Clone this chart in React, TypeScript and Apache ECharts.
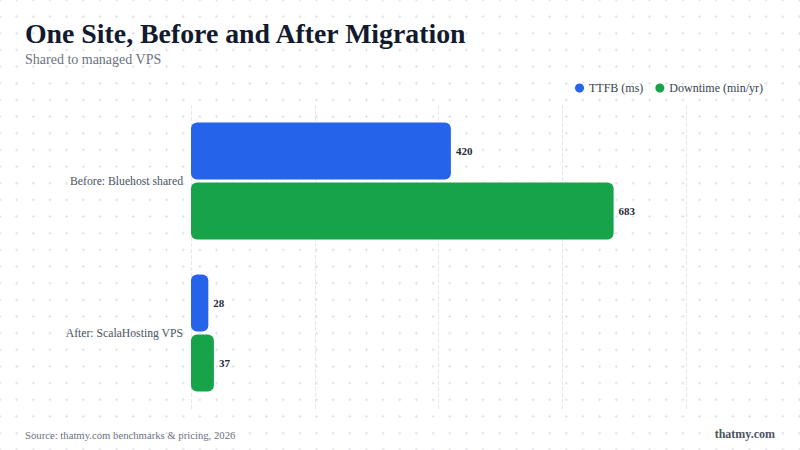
import * as echarts from "echarts";
import { useEffect, useRef } from "react";

const categories = ["Before: Bluehost shared", "After: ScalaHosting VPS"];
const ttfb = [420, 28];
const downtime = [683, 37];
const seriesNames = ["TTFB (ms)", "Downtime (min/yr)"];

const FONT = "'Liberation Serif', Georgia, serif";

function App() {
  const chartRef = useRef<HTMLDivElement>(null);

  useEffect(() => {
    const chart = echarts.init(chartRef.current, null, { renderer: "svg" });

    const barLabel = {
      show: true,
      position: "right",
      distance: 5,
      fontFamily: FONT,
      fontSize: 11,
      fontWeight: "bold",
      color: "#1f2937",
    };

    chart.setOption({
      animation: false,
      backgroundColor: "transparent",
      textStyle: { fontFamily: FONT },
      title: {
        text: "One Site, Before and After Migration",
        subtext: "Shared to managed VPS",
        left: 25,
        top: 19,
        padding: 0,
        itemGap: 5,
        textStyle: {
          fontFamily: FONT,
          fontSize: 27.8,
          fontWeight: "bold",
          color: "#111a2e",
        },
        subtextStyle: {
          fontFamily: FONT,
          fontSize: 14,
          color: "#6b7280",
        },
      },
      legend: {
        data: seriesNames,
        right: 37,
        top: 82,
        padding: 0,
        icon: "circle",
        itemWidth: 9,
        itemHeight: 9,
        itemGap: 12,
        textStyle: { fontFamily: FONT, fontSize: 12, color: "#374151" },
      },
      grid: { left: 191, right: 114, top: 105, bottom: 41 },
      xAxis: {
        type: "value",
        min: 0,
        max: 800,
        interval: 200,
        axisLabel: { show: false },
        axisLine: { show: false },
        axisTick: { show: false },
        splitLine: { lineStyle: { color: "#e5e7eb", type: "dashed", width: 1 } },
      },
      yAxis: {
        type: "category",
        data: categories,
        inverse: true,
        axisLine: { show: false },
        axisTick: { show: false },
        axisLabel: { fontFamily: FONT, fontSize: 11.7, color: "#4b5563", margin: 8 },
      },
      series: [
        {
          name: seriesNames[0],
          type: "bar",
          data: ttfb,
          barWidth: 57,
          barGap: "5%",
          itemStyle: { color: "#2563eb", borderRadius: 6 },
          label: barLabel,
        },
        {
          name: seriesNames[1],
          type: "bar",
          data: downtime,
          barWidth: 57,
          barGap: "5%",
          itemStyle: { color: "#16a34a", borderRadius: 6 },
          label: barLabel,
        },
      ],
      graphic: [
        {
          type: "text",
          left: 25,
          top: 429,
          style: {
            text: "Source: thatmy.com benchmarks & pricing, 2026",
            fontFamily: FONT,
            fontSize: 10.7,
            fill: "#6b7280",
          },
        },
        {
          type: "text",
          right: 25,
          top: 428,
          style: {
            text: "thatmy.com",
            fontFamily: FONT,
            fontSize: 12,
            fontWeight: "bold",
            fill: "#4b5563",
          },
        },
      ],
    });

    return () => {
      chart.dispose();
    };
  }, []);

  return (
    <div
      style={{
        position: "fixed",
        left: 0,
        top: 0,
        width: 800,
        height: 450,
        backgroundColor: "#ffffff",
        backgroundImage: "radial-gradient(circle, #dfe2e7 1px, transparent 1.3px)",
        backgroundSize: "16.667px 16.667px",
        backgroundPosition: "-8.333px -8.333px",
      }}
    >
      <div ref={chartRef} style={{ width: 800, height: 450 }} />
    </div>
  );
}

export default App;
